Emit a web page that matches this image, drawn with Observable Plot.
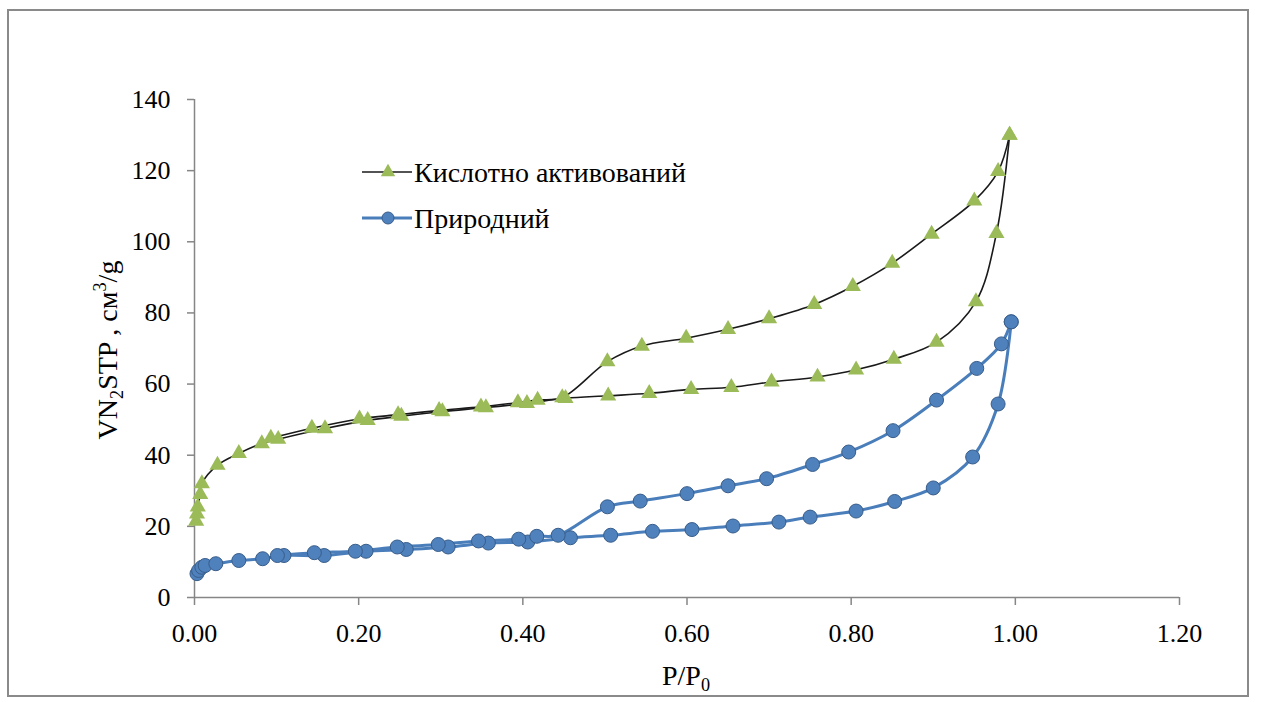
<!DOCTYPE html>
<html>
<head>
<meta charset="utf-8">
<script src="https://cdn.jsdelivr.net/npm/d3@7"></script>
<script src="https://cdn.jsdelivr.net/npm/@observablehq/plot@0.6"></script>
<style>
  html, body { margin: 0; padding: 0; background: #fff; }
  #wrap { position: relative; width: 1261px; height: 702px; overflow: hidden; }
  #frame { position: absolute; left: 7px; top: 9px; width: 1242px; height: 688px; border: 2px solid #8a8a8a; box-sizing: border-box; pointer-events: none; }
  #chart { position: absolute; left: 0; top: 0; }
</style>
</head>
<body>
<div id="wrap"><div id="chart"></div><div id="frame"></div></div>
<script>
// Series names
const seriesNames = ["Кислотно активований", "Природний"];

// Acid-activated sample: adsorption branch
const greenAdsP = [0.002,0.003,0.004,0.007,0.009,0.028,0.054,0.082,0.102,0.159,0.211,0.252,0.302,0.355,0.405,0.452,0.504,0.554,0.605,0.654,0.703,0.759,0.806,0.852,0.904,0.952,0.977,0.993];
const greenAdsV = [21.5,23.5,25.5,29.0,32.0,37.2,40.5,43.3,44.5,47.5,49.8,51.0,52.3,53.4,54.6,56.0,56.7,57.4,58.5,59.1,60.6,62.0,64.0,67.0,71.8,83.2,102.4,130.0];
// Acid-activated sample: desorption branch
const greenDesP = [0.993,0.979,0.950,0.898,0.850,0.802,0.755,0.700,0.650,0.599,0.545,0.503,0.448,0.418,0.394,0.349,0.298,0.248,0.201,0.143,0.093];
const greenDesV = [130.0,119.8,111.5,102.2,94.0,87.5,82.4,78.4,75.4,72.9,70.7,66.3,56.2,55.5,54.8,53.6,52.6,51.4,50.2,47.6,44.8];

// Natural sample: adsorption branch
const blueAdsP = [0.003,0.005,0.009,0.013,0.026,0.054,0.083,0.109,0.158,0.209,0.258,0.309,0.358,0.406,0.458,0.507,0.558,0.606,0.656,0.712,0.750,0.806,0.853,0.900,0.948,0.979,0.995];
const blueAdsV = [6.7,7.6,8.5,9.0,9.5,10.4,10.9,11.8,11.8,13.0,13.5,14.2,15.3,15.6,16.8,17.5,18.6,19.1,20.1,21.2,22.6,24.3,27.0,30.8,39.5,54.4,77.5];
// Natural sample: desorption branch
const blueDesP = [0.995,0.983,0.953,0.904,0.851,0.797,0.753,0.697,0.650,0.600,0.543,0.503,0.443,0.417,0.395,0.346,0.297,0.247,0.196,0.146,0.101];
const blueDesV = [77.5,71.3,64.4,55.5,46.9,40.9,37.4,33.4,31.4,29.2,27.1,25.5,17.5,17.2,16.4,15.9,14.9,14.2,13.0,12.6,11.8];

const xTicks = [0, 0.2, 0.4, 0.6, 0.8, 1.0, 1.2];
const yTicks = [0, 20, 40, 60, 80, 100, 120, 140];

function rows(P, V, branch) { return P.map((p, i) => ({p, v: V[i], branch})); }
const greenRows = rows(greenAdsP, greenAdsV, "ads").concat(rows(greenDesP, greenDesV, "des"));
const blueRows = rows(blueAdsP, blueAdsV, "ads").concat(rows(blueDesP, blueDesV, "des"));

const FONT = "'Liberation Serif', 'Times New Roman', serif";
const axisGray = "#868686";

const chart = Plot.plot({
  width: 1261,
  height: 702,
  marginLeft: 194,
  marginRight: 82,
  marginTop: 99,
  marginBottom: 105,
  style: { fontFamily: FONT, fontSize: "26px", background: "transparent", color: "#000", overflow: "visible" },
  x: { domain: [0, 1.2], label: null },
  y: { domain: [0, 140], label: null },
  marks: [
    Plot.ruleY([0], { stroke: axisGray, strokeWidth: 1.5 }),
    Plot.ruleX([0], { stroke: axisGray, strokeWidth: 1.5 }),
    Plot.axisX({ ticks: xTicks, tickFormat: d => d.toFixed(2), tickSize: 8, tickPadding: 18, stroke: axisGray, strokeWidth: 1.5, fill: "#000", fontSize: 26, label: null }),
    Plot.axisY({ ticks: yTicks, tickFormat: d => String(d), tickSize: 7, tickPadding: 17, stroke: axisGray, strokeWidth: 1.5, fill: "#000", fontSize: 26, label: null }),
    Plot.line(greenRows, { x: "p", y: "v", z: "branch", stroke: "#1a1a1a", strokeWidth: 1.6, curve: "catmull-rom" }),
    Plot.dot(greenRows, { x: "p", y: "v", symbol: "triangle", r: 6, fill: "#9BBB59", stroke: "none" }),
    Plot.line(blueRows, { x: "p", y: "v", z: "branch", stroke: "#4A7EBB", strokeWidth: 3, curve: "catmull-rom" }),
    Plot.dot(blueRows, { x: "p", y: "v", symbol: "circle", r: 7, fill: "#4F81BD", stroke: "#385D8A", strokeWidth: 1 })
  ]
});
document.getElementById("chart").appendChild(chart);

const svg = d3.select(chart);

function rich(g, parts, size) {
  parts.forEach(([t, kind]) => {
    const ts = g.append("tspan").text(t);
    if (kind === "sub") ts.attr("font-size", size * 0.65).attr("dy", size * 0.22);
    else if (kind === "sup") ts.attr("font-size", size * 0.65).attr("dy", -size * 0.38);
    else if (kind === "back-sub") ts.attr("dy", -size * 0.22);
    else if (kind === "back-sup") ts.attr("dy", size * 0.38);
  });
}

// Y axis title
const yt = svg.append("text")
  .attr("transform", "translate(117,350) rotate(-90)")
  .attr("text-anchor", "middle")
  .attr("font-family", FONT).attr("font-size", 28).attr("fill", "#000");
rich(yt, [["VN"], ["2", "sub"], ["STP , см", "back-sub"], ["3", "sup"], ["/g", "back-sup"]], 28);

// X axis title
const xt = svg.append("text")
  .attr("x", 686).attr("y", 685)
  .attr("text-anchor", "middle")
  .attr("font-family", FONT).attr("font-size", 28).attr("fill", "#000");
rich(xt, [["P/P"], ["0", "sub"]], 28);

// Legend
const lg = svg.append("g").attr("font-family", FONT).attr("font-size", 28).attr("fill", "#000").attr("text-anchor", "start");
const legendItems = [
  { name: seriesNames[0], y: 172, stroke: "#1a1a1a", sw: 1.6, sym: "triangle" },
  { name: seriesNames[1], y: 218, stroke: "#4A7EBB", sw: 3, sym: "circle" }
];
legendItems.forEach(it => {
  lg.append("line").attr("x1", 362).attr("x2", 412).attr("y1", it.y).attr("y2", it.y)
    .attr("stroke", it.stroke).attr("stroke-width", it.sw);
  if (it.sym === "triangle") {
    lg.append("path").attr("d", d3.symbol(d3.symbolTriangle, 90)()).attr("transform", `translate(388,${it.y})`).attr("fill", "#9BBB59");
  } else {
    lg.append("circle").attr("cx", 388).attr("cy", it.y).attr("r", 6).attr("fill", "#4F81BD").attr("stroke", "#385D8A");
  }
  lg.append("text").attr("x", 414).attr("y", it.y + 10).attr("text-anchor", "start").text(it.name);
});
</script>
</body>
</html>
